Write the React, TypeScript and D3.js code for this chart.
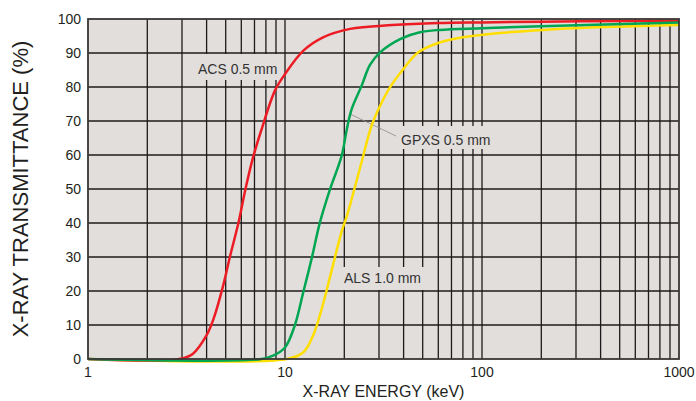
import React, { useEffect, useRef } from 'react'
import * as d3 from 'd3'

// energy (keV) / transmittance (%)
const acsEnergy = [1, 2.9, 3.4, 4, 4.35, 4.85, 5.25, 5.8, 6.3, 6.9, 7.6, 8.9, 10, 12.4, 15.6, 21.4, 35, 60, 100, 200, 500, 1000]
const acsTrans = [0, 0, 1.5, 7, 12, 21.5, 30, 40, 50, 59.5, 67.5, 79, 83.8, 90.7, 94.6, 97.1, 98.2, 98.8, 99, 99.2, 99.4, 99.5]

const gpxsEnergy = [1, 7.6, 8.7, 10, 11.2, 12.4, 13.7, 15, 16.9, 19.4, 20.6, 21.8, 24.5, 27, 30.4, 38.4, 48.4, 61, 100, 200, 1000]
const gpxsTrans = [0, 0, 1, 3.4, 9.8, 19.8, 29.9, 39.9, 49.8, 59.8, 67.6, 73.5, 80.4, 86.5, 90.2, 94.1, 96.1, 96.8, 97.3, 97.9, 99]

const alsEnergy = [1, 10.2, 12.4, 13.9, 15.4, 16.9, 18.3, 19.5, 20.6, 22.5, 24.5, 27.5, 30.4, 34.1, 39.9, 47.5, 61, 83.6, 204, 1000]
const alsTrans = [0, 0, 2, 7, 15, 24, 32, 38, 42, 50, 58, 68.6, 74.5, 79.9, 85.3, 90.2, 93.1, 94.8, 96.8, 98.2]

const xTickLabels = [1, 10, 100, 1000]
const yTickLabels = [0, 10, 20, 30, 40, 50, 60, 70, 80, 90, 100]

const font = "'Liberation Sans', Arial, sans-serif"

const App = () => {
  const ref = useRef<SVGSVGElement>(null)

  useEffect(() => {
    const width = 696
    const height = 401
    const left = 88
    const right = 679
    const top = 19
    const bottom = 359

    const svg = d3.select(ref.current)
    svg.selectAll('*').remove()

    const x = d3.scaleLog().domain([1, 1000]).range([left, right])
    const y = d3.scaleLinear().domain([0, 100]).range([bottom, top])

    svg
      .append('rect')
      .attr('width', width)
      .attr('height', height)
      .attr('fill', 'white')

    svg
      .append('rect')
      .attr('x', left)
      .attr('y', top)
      .attr('width', right - left)
      .attr('height', bottom - top)
      .attr('fill', '#e2dedc')

    // grid
    const minor: number[] = []
    for (let d = 1; d < 1000; d *= 10) {
      for (let k = 2; k <= 9; k++) minor.push(d * k)
    }
    minor.push(10, 100)

    svg
      .selectAll('vgrid')
      .data(minor)
      .enter()
      .append('line')
      .attr('x1', (d) => x(d))
      .attr('x2', (d) => x(d))
      .attr('y1', top)
      .attr('y2', bottom)
      .attr('stroke', '#1c1a1a')
      .attr('stroke-width', 1.3)

    svg
      .selectAll('hgrid')
      .data(yTickLabels.slice(1, -1))
      .enter()
      .append('line')
      .attr('x1', left)
      .attr('x2', right)
      .attr('y1', (d) => y(d))
      .attr('y2', (d) => y(d))
      .attr('stroke', '#1c1a1a')
      .attr('stroke-width', 1.3)

    // labels with background boxes over the grid
    const notes = [
      { text: 'ACS 0.5 mm', x: 198, y: 74, box: [196, 54, 86, 26] },
      { text: 'GPXS 0.5 mm', x: 401, y: 145, box: [398, 126, 98, 23] },
      { text: 'ALS 1.0 mm', x: 344, y: 283, box: [340, 267, 88, 23] },
    ]

    svg
      .selectAll('noteBox')
      .data(notes)
      .enter()
      .append('rect')
      .attr('x', (d) => d.box[0])
      .attr('y', (d) => d.box[1])
      .attr('width', (d) => d.box[2])
      .attr('height', (d) => d.box[3])
      .attr('fill', '#e2dedc')

    svg
      .append('line')
      .attr('x1', 350)
      .attr('y1', 114)
      .attr('x2', 396)
      .attr('y2', 136)
      .attr('stroke', '#8a8a8a')
      .attr('stroke-width', 0.8)

    svg
      .selectAll('noteText')
      .data(notes)
      .enter()
      .append('text')
      .attr('x', (d) => d.x)
      .attr('y', (d) => d.y)
      .text((d) => d.text)
      .style('font-family', font)
      .style('font-size', '14px')
      .attr('fill', '#333')

    // curves
    const line = d3
      .line<[number, number]>()
      .x((d) => x(d[0]))
      .y((d) => y(Math.max(0, d[1])))
      .curve(d3.curveCatmullRom.alpha(0.5))

    const series = [
      { e: alsEnergy, t: alsTrans, color: '#ffde00' },
      { e: acsEnergy, t: acsTrans, color: '#ed1c24' },
      { e: gpxsEnergy, t: gpxsTrans, color: '#00a651' },
    ]

    svg
      .selectAll('curves')
      .data(series)
      .enter()
      .append('path')
      .attr('d', (s) => line(s.e.map((e, i) => [e, s.t[i]] as [number, number])))
      .attr('fill', 'none')
      .attr('stroke', (s) => s.color)
      .attr('stroke-width', 2.5)

    // frame
    svg
      .append('rect')
      .attr('x', left)
      .attr('y', top)
      .attr('width', right - left)
      .attr('height', bottom - top)
      .attr('fill', 'none')
      .attr('stroke', '#3a3636')
      .attr('stroke-width', 1.8)

    // tick labels
    svg
      .selectAll('ylab')
      .data(yTickLabels)
      .enter()
      .append('text')
      .attr('x', 81)
      .attr('y', (d) => y(d) + 5)
      .attr('text-anchor', 'end')
      .text((d) => d)
      .style('font-family', font)
      .style('font-size', '14px')
      .attr('fill', '#231f20')

    svg
      .selectAll('xlab')
      .data(xTickLabels)
      .enter()
      .append('text')
      .attr('x', (d) => x(d))
      .attr('y', 377)
      .attr('text-anchor', 'middle')
      .text((d) => d)
      .style('font-family', font)
      .style('font-size', '14px')
      .attr('fill', '#231f20')

    svg
      .append('text')
      .attr('x', (left + right) / 2)
      .attr('y', 397)
      .attr('text-anchor', 'middle')
      .text('X-RAY ENERGY (keV)')
      .style('font-family', font)
      .style('font-size', '16px')
      .attr('fill', '#231f20')

    svg
      .append('text')
      .attr('transform', `translate(28,${(top + bottom) / 2}) rotate(-90)`)
      .attr('text-anchor', 'middle')
      .text('X-RAY TRANSMITTANCE (%)')
      .style('font-family', font)
      .style('font-size', '22px')
      .attr('fill', '#231f20')
  }, [])

  return (
    <svg
      ref={ref}
      width={696}
      height={401}
      style={{ position: 'absolute', left: 0, top: 0, display: 'block' }}
    />
  )
}

export default App
